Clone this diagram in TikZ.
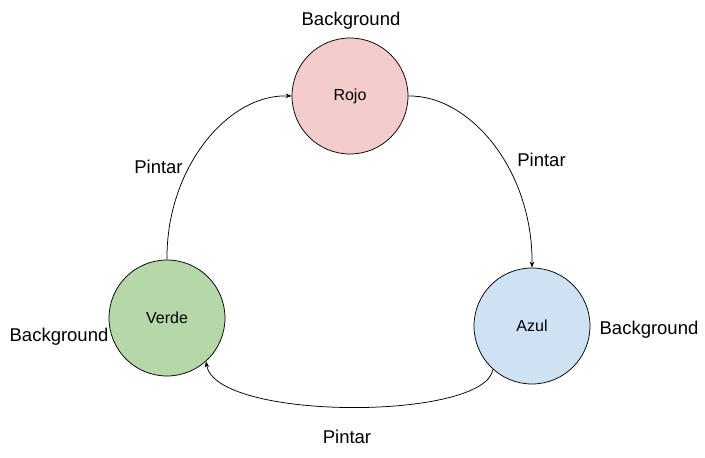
\documentclass[tikz,border=0pt]{standalone}
\usepackage{fontspec}
\setmainfont{Liberation Sans}
\usetikzlibrary{arrows.meta}
\definecolor{rojofill}{HTML}{F4CCCC}
\definecolor{verdefill}{HTML}{B6D7A8}
\definecolor{azulfill}{HTML}{CFE2F3}
\tikzset{
  state/.style={circle, draw=black, line width=0.75pt, minimum size=116pt, inner sep=0pt, font=\fontsize{16}{19}\selectfont},
  lbl/.style={inner sep=0pt, font=\fontsize{18.5}{22}\selectfont},
  conn/.style={line width=0.75pt, -{Stealth[length=6pt,width=4.5pt]}}
}
\begin{document}
\begin{tikzpicture}[x=1pt,y=-1pt]
\useasboundingbox (0,0) rectangle (705,458);
\fill[white] (0,0) rectangle (705,458);
\node[state, fill=rojofill] (rojo) at (350,96) {Rojo};
\node[state, fill=verdefill] (verde) at (167,318) {Verde};
\node[state, fill=azulfill] (azul) at (532,326) {Azul};
\node[lbl] (bgr) at (351,21) {Background};
\node[lbl] (bgv) at (59,337) {Background};
\node[lbl] (bga) at (649,330) {Background};
\node[lbl] (p1) at (158.5,167) {Pintar};
\node[lbl] (p2) at (541.5,160) {Pintar};
\node[lbl] (p3) at (347,437) {Pintar};
\draw[conn] (verde.90) .. controls (166,169) and (227,94) .. (rojo.180);
\draw[conn] (rojo.0) .. controls (470,95) and (533,170) .. (azul.90);
\draw[conn] (azul.-132) .. controls (485,421) and (215,421) .. (verde.-48);
\end{tikzpicture}
\end{document}
